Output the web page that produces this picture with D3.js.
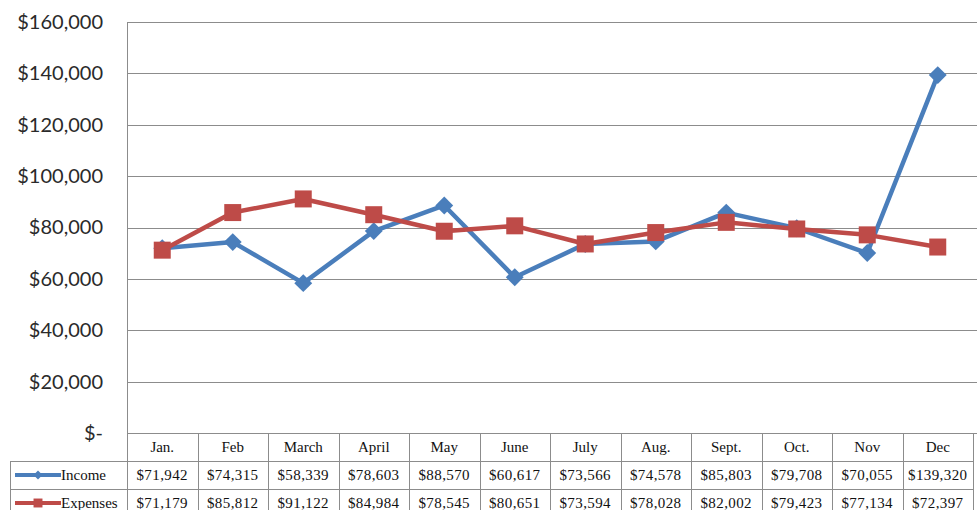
<!DOCTYPE html>
<html>
<head>
<meta charset="utf-8">
<script src="https://cdn.jsdelivr.net/npm/d3@7"></script>
<style>
  html, body { margin: 0; padding: 0; background: #fff; overflow: hidden; }
  svg { display: block; }
</style>
</head>
<body>
<svg id="chart" width="977" height="510"></svg>
<script>
const months = ["Jan.", "Feb", "March", "April", "May", "June", "July", "Aug.", "Sept.", "Oct.", "Nov", "Dec"];
const income = [71942, 74315, 58339, 78603, 88570, 60617, 73566, 74578, 85803, 79708, 70055, 139320];
const expenses = [71179, 85812, 91122, 84984, 78545, 80651, 73594, 78028, 82002, 79423, 77134, 72397];
const seriesNames = ["Income", "Expenses"];
const yTicks = [0, 20000, 40000, 60000, 80000, 100000, 120000, 140000, 160000];

const colors = { Income: "#4a7ebb", Expenses: "#be4b48" };
const series = [
  { name: seriesNames[0], values: income, shape: "diamond" },
  { name: seriesNames[1], values: expenses, shape: "square" }
];

const svg = d3.select("#chart");
const pLeft = 127, pRight = 973, pTop = 22, pBottom = 433;
const gridColor = "#8c8c8c";

const x = d3.scaleBand().domain(months).range([pLeft, pRight]).padding(0);
const y = d3.scaleLinear().domain([0, 160000]).range([pBottom, pTop]);
const cx = m => x(m) + x.bandwidth() / 2;

const fmt = d3.format(",");
const money = v => v === 0 ? "$-" : "$" + fmt(v);

// gridlines
svg.append("g").selectAll("line").data(yTicks.filter(t => t > 0)).join("line")
  .attr("x1", pLeft).attr("x2", 977)
  .attr("y1", d => Math.round(y(d)) + 0.5).attr("y2", d => Math.round(y(d)) + 0.5)
  .attr("stroke", gridColor).attr("stroke-width", 1);

// y axis
const yAxis = d3.axisLeft(y).tickValues(yTicks).tickFormat(money).tickSize(0).tickPadding(24);
const gy = svg.append("g").attr("transform", `translate(${pLeft},0)`).call(yAxis);
gy.select(".domain").remove();
gy.selectAll("text")
  .attr("font-family", "Lato, 'Open Sans', sans-serif")
  .attr("font-size", 20).attr("fill", "#2a2a2a");

// lines and markers
const line = d3.line().x((d, i) => cx(months[i])).y(d => y(d));
series.forEach(s => {
  svg.append("path").datum(s.values)
    .attr("d", line).attr("fill", "none")
    .attr("stroke", colors[s.name]).attr("stroke-width", 4.5)
    .attr("stroke-linejoin", "round");
  const g = svg.append("g");
  if (s.shape === "diamond") {
    const sym = d3.symbol().type(d3.symbolSquare).size(160);
    g.selectAll("path").data(s.values).join("path")
      .attr("d", sym)
      .attr("transform", (d, i) => `translate(${cx(months[i])},${y(d)}) rotate(45)`)
      .attr("fill", colors[s.name]);
  } else {
    const sym = d3.symbol().type(d3.symbolSquare).size(289);
    g.selectAll("path").data(s.values).join("path")
      .attr("d", sym)
      .attr("transform", (d, i) => `translate(${cx(months[i])},${y(d)})`)
      .attr("fill", colors[s.name]);
  }
});

// data table
const rows = ["header", ...seriesNames];
const ry = d3.scaleBand().domain(rows).range([pBottom, pBottom + 28 * 3]).padding(0);
const tableLeft = 10;
const tg = svg.append("g");
const stroke = gridColor;

// horizontal lines
rows.forEach((r, i) => {
  const yy = Math.round(ry(r)) + 0.5;
  tg.append("line").attr("x1", i === 0 ? pLeft : tableLeft).attr("x2", i === 0 ? 977 : pRight)
    .attr("y1", yy).attr("y2", yy).attr("stroke", stroke);
});
// vertical lines
const vx = [pLeft, ...months.map(m => x(m) + x.bandwidth())];
vx.forEach(v => {
  tg.append("line").attr("x1", Math.round(v) + 0.5).attr("x2", Math.round(v) + 0.5)
    .attr("y1", v === pLeft ? pTop : pBottom).attr("y2", 510).attr("stroke", stroke);
});
tg.append("line").attr("x1", tableLeft + 0.5).attr("x2", tableLeft + 0.5)
  .attr("y1", ry("Income")).attr("y2", 510).attr("stroke", stroke);

const serif = "'Liberation Serif', 'Times New Roman', serif";
// header text
tg.selectAll("text.hdr").data(months).join("text")
  .attr("class", "hdr")
  .attr("x", d => cx(d)).attr("y", ry("header") + ry.bandwidth() / 2 + 5)
  .attr("text-anchor", "middle").attr("font-family", serif).attr("font-size", 15)
  .attr("fill", "#111").text(d => d);

series.forEach(s => {
  const rowY = ry(s.name) + ry.bandwidth() / 2;
  tg.selectAll(null).data(s.values).join("text")
    .attr("x", (d, i) => cx(months[i])).attr("y", rowY + 5)
    .attr("text-anchor", "middle").attr("font-family", serif).attr("font-size", 15)
    .attr("letter-spacing", 0.4)
    .attr("fill", "#111").text(d => money(d));
  // legend key
  tg.append("line").attr("x1", 15).attr("x2", 61).attr("y1", rowY).attr("y2", rowY)
    .attr("stroke", colors[s.name]).attr("stroke-width", 4);
  if (s.shape === "diamond") {
    tg.append("path").attr("d", d3.symbol().type(d3.symbolSquare).size(40)())
      .attr("transform", `translate(38,${rowY}) rotate(45)`).attr("fill", colors[s.name]);
  } else {
    tg.append("path").attr("d", d3.symbol().type(d3.symbolSquare).size(80)())
      .attr("transform", `translate(38,${rowY})`).attr("fill", colors[s.name]);
  }
  tg.append("text").attr("x", 61).attr("y", rowY + 5)
    .attr("font-family", serif).attr("font-size", 15).attr("fill", "#111").text(s.name);
});
</script>
</body>
</html>
